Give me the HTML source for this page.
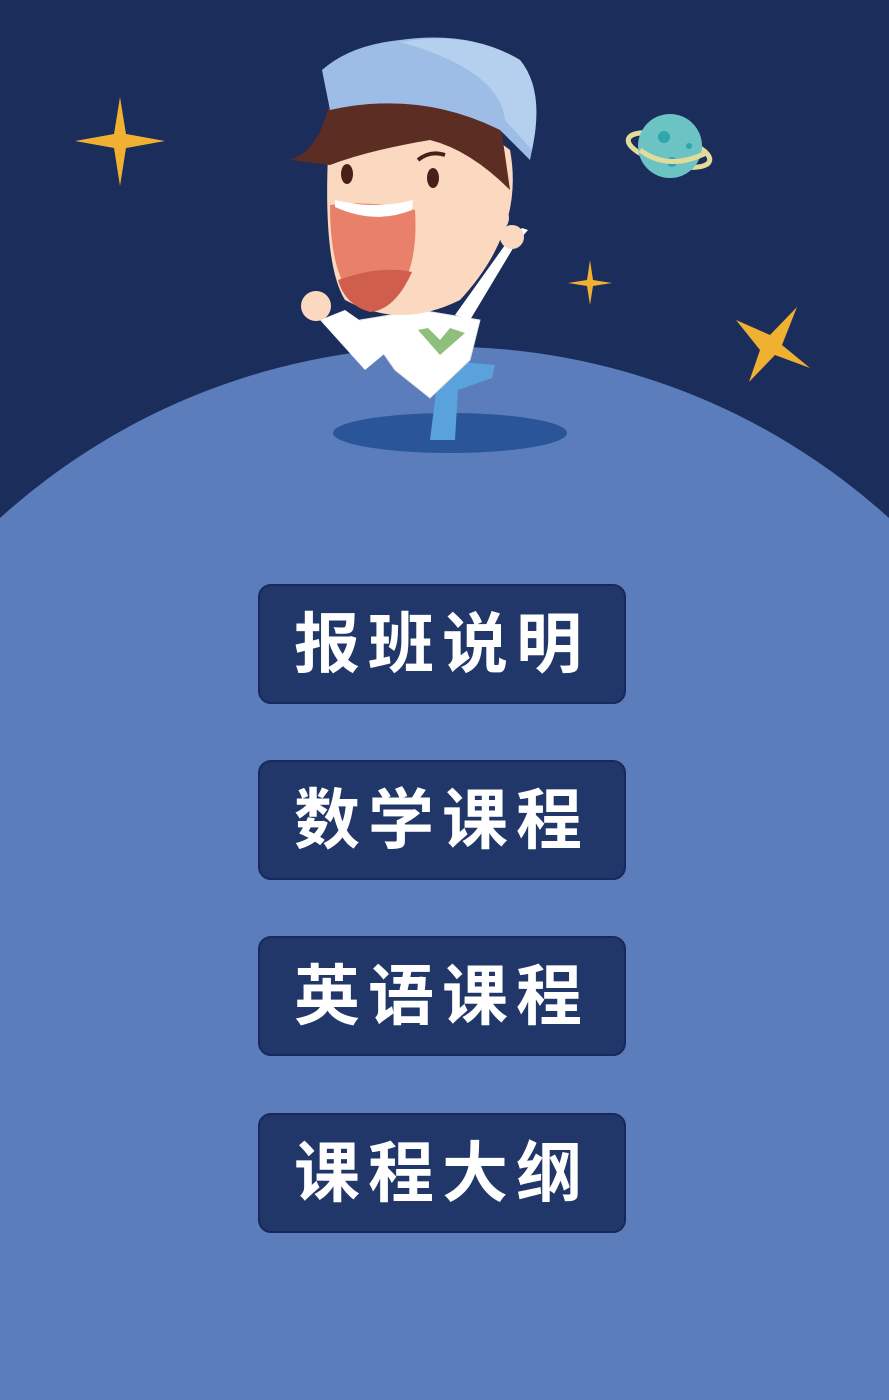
<!DOCTYPE html>
<html><head><meta charset="utf-8">
<style>
html,body{margin:0;padding:0;width:889px;height:1400px;overflow:hidden;}
body{background:#1b2d5a;position:relative;font-family:"Liberation Sans","Noto Sans CJK SC","WenQuanYi Zen Hei",sans-serif;}
svg.bg{position:absolute;left:0;top:0;overflow:hidden;display:block;}
.btn{position:absolute;left:258px;width:364px;height:116px;background:#213769;border:2px solid #18285a;border-radius:13px;color:#fff;font-size:66px;font-weight:bold;text-align:center;line-height:116px;letter-spacing:8px;box-sizing:content-box;cursor:pointer;}
</style></head>
<body>
<svg class="bg" width="889" height="1400" viewBox="0 0 889 1400">
  <path d="M0 518 A662 662 0 0 1 889 518 L889 1400 L0 1400 Z" fill="#5b7dbc"/>
  <path d="M120 97 L126 134 L165 141 L126 148 L120 186 L114 148 L75 141 L114 134 Z" fill="#f0b032"/>
  <path d="M590 260 L593 280 L612 283 L593 286 L590 305 L587 286 L568 283 L587 280 Z" fill="#f0b032"/>
  <path d="M797 307 L782 345 L810 368 L775 355 L749 382 L760 350 L736 320 L770 335 Z" fill="#f0b032"/>
  <g>
    <ellipse cx="669" cy="150" rx="42" ry="14" fill="none" stroke="#e2dc9a" stroke-width="5" transform="rotate(15 669 150)"/>
    <circle cx="670" cy="146" r="32" fill="#6cc3c4"/>
    <circle cx="664" cy="137" r="6" fill="#2fa6ab"/>
    <circle cx="672" cy="162" r="5" fill="#2fa6ab"/>
    <circle cx="689" cy="146" r="3" fill="#2fa6ab"/>
    <path d="M640 150 Q669 172 708 152" fill="none" stroke="#e2dc9a" stroke-width="5"/>
  </g>
  <g>
    <ellipse cx="450" cy="433" rx="117" ry="20" fill="#2a5598"/>
    <path d="M440 360 L430 440 L455 440 L458 390 L492 378 L495 365 Z" fill="#5aa2dc"/>
    <path d="M360 320 L420 310 L480 320 L470 360 L430 398 L395 370 Z" fill="#ffffff" stroke="#e3e3e3"/>
    <path d="M418 330 L440 355 L465 333 L450 328 L440 340 L428 328 Z" fill="#8fbf7d"/>
    <path d="M470 320 L515 245 L528 230 L522 228 L505 245 L455 315 Z" fill="#ffffff"/>
    <path d="M320 320 L365 370 L395 345 L345 310 Z" fill="#ffffff"/>
    <circle cx="316" cy="306" r="15" fill="#fbd8c0"/>
    <circle cx="512" cy="237" r="12" fill="#fbd8c0"/>
    <path d="M330 120 Q420 80 510 150 Q525 230 460 300 Q400 330 345 300 Q320 260 330 120 Z" fill="#fbd8c0"/>
    <path d="M330 100 Q400 70 500 120 L510 190 Q470 150 430 140 Q370 150 330 165 L290 160 Q320 150 330 100 Z" fill="#5c2d22"/>
    <path d="M322 70 Q350 45 400 40 Q470 30 520 60 Q545 90 530 160 L500 130 Q420 90 330 110 Z" fill="#9dbde6"/>
    <path d="M400 42 Q470 30 520 60 Q545 90 532 150 L505 120 Q500 70 400 42 Z" fill="#b5d0ef"/>
    <circle cx="495" cy="218" r="14" fill="#fbd8c0"/>
    <ellipse cx="347" cy="174" rx="6" ry="10" fill="#4a1f1a"/>
    <ellipse cx="433" cy="178" rx="6" ry="10" fill="#4a1f1a"/>
    <path d="M418 160 Q430 150 445 155" stroke="#4a1f1a" stroke-width="4" fill="none"/>
    <path d="M330 205 Q370 200 415 210 Q420 290 375 310 Q330 300 330 205 Z" fill="#e8806a"/>
    <path d="M338 280 Q380 265 412 272 Q395 310 370 312 Q345 305 338 280 Z" fill="#d05e4c"/>
    <path d="M335 207 Q375 225 412 210 L413 200 Q375 210 335 200 Z" fill="#ffffff"/>
  </g>
</svg>
<div class="btn" style="top:584px">报班说明</div>
<div class="btn" style="top:760px">数学课程</div>
<div class="btn" style="top:936px">英语课程</div>
<div class="btn" style="top:1113px">课程大纲</div>
</body></html>
